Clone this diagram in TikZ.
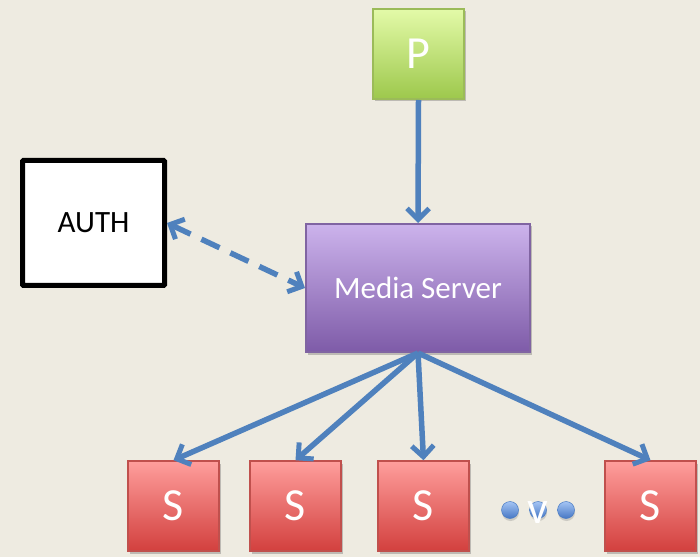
\documentclass[tikz,border=0pt]{standalone}
\usepackage{fontspec}
\setmainfont{Carlito}
\usetikzlibrary{arrows.meta,shadows}
\definecolor{bg}{HTML}{EEEBE1}
\definecolor{arrowblue}{HTML}{4F81BD}
\definecolor{pdraw}{HTML}{9BBB59}
\definecolor{ptop}{HTML}{E3FAA8}
\definecolor{pbot}{HTML}{9DC84C}
\definecolor{msdraw}{HTML}{8064A2}
\definecolor{mstop}{HTML}{CCB3EC}
\definecolor{msbot}{HTML}{7E5BA8}
\definecolor{sdraw}{HTML}{C0504D}
\definecolor{stop}{HTML}{FF9E9C}
\definecolor{sbot}{HTML}{D2403E}
\definecolor{dtop}{HTML}{A4C4F4}
\definecolor{dbot}{HTML}{4677C4}
\definecolor{ddraw}{HTML}{4A7CC4}
\tikzset{
  shad/.style={drop shadow={shadow xshift=1.5pt, shadow yshift=-2.5pt, opacity=0.3, fill=black!70}},
  pbox/.style={shad, draw=pdraw, line width=2pt, top color=ptop, bottom color=pbot,
    minimum width=91pt, minimum height=90pt, inner sep=0pt, text=white, font=\fontsize{46}{46}\selectfont},
  authbox/.style={draw=black, line width=5pt, fill=white, minimum width=142pt, minimum height=125pt,
    inner sep=0pt, font=\fontsize{31}{31}\selectfont, rounded corners=1pt},
  msbox/.style={shad, draw=msdraw, line width=2pt, top color=mstop, bottom color=msbot,
    minimum width=224pt, minimum height=128pt, inner sep=0pt, text=white, font=\fontsize{31}{31}\selectfont},
  sbox/.style={shad, draw=sdraw, line width=1.5pt, top color=stop, bottom color=sbot,
    minimum width=91pt, minimum height=90pt, inner sep=0pt, text=white, font=\fontsize{46}{46}\selectfont},
  dot/.style={circle, inner sep=0pt, minimum size=17pt, top color=dtop, bottom color=dbot,
    draw=ddraw, line width=0.5pt, drop shadow={shadow xshift=0.5pt, shadow yshift=-2.5pt, opacity=0.3}},
  conn/.style={draw=arrowblue, line width=5.5pt, -{Straight Barb[length=11pt,width=22pt,line width=5pt]}},
  dconn/.style={conn, {Straight Barb[length=11pt,width=22pt,line width=5pt]}-{Straight Barb[length=11pt,width=22pt,line width=5pt]}, dash pattern=on 20pt off 12pt}
}
\begin{document}
\begin{tikzpicture}[x=1pt,y=1pt]
\fill[bg] (0,0) rectangle (700,557);
\useasboundingbox (0,0) rectangle (700,557);
\node[pbox] (P) at (418.5,503) {P};
\node[authbox] (AUTH) at (93.5,334) {AUTH};
\node[msbox] (MS) at (418,269) {Media Server};
\node[sbox] (S1) at (173.5,51) {S};
\node[sbox] (S2) at (295.5,51) {S};
\node[sbox] (S3) at (423.5,51) {S};
\node[sbox] (S4) at (650.5,51) {S};
\node[dot] (d1) at (510,47) {};
\node[dot] (d2) at (538,47) {};
\node[dot] (d3) at (566,47) {};
\node[text=white, inner sep=0pt, font=\fontsize{46}{46}\selectfont] (v) at (538,44) {v};
\draw[conn] (P.south) -- (MS.north);
\draw[dconn] (AUTH.east) -- (MS.west);
\draw[conn] (MS.south) -- (S1.north);
\draw[conn] (MS.south) -- (S2.north);
\draw[conn] (MS.south) -- (S3.north);
\draw[conn] (MS.south) -- (S4.north);
\end{tikzpicture}
\end{document}
